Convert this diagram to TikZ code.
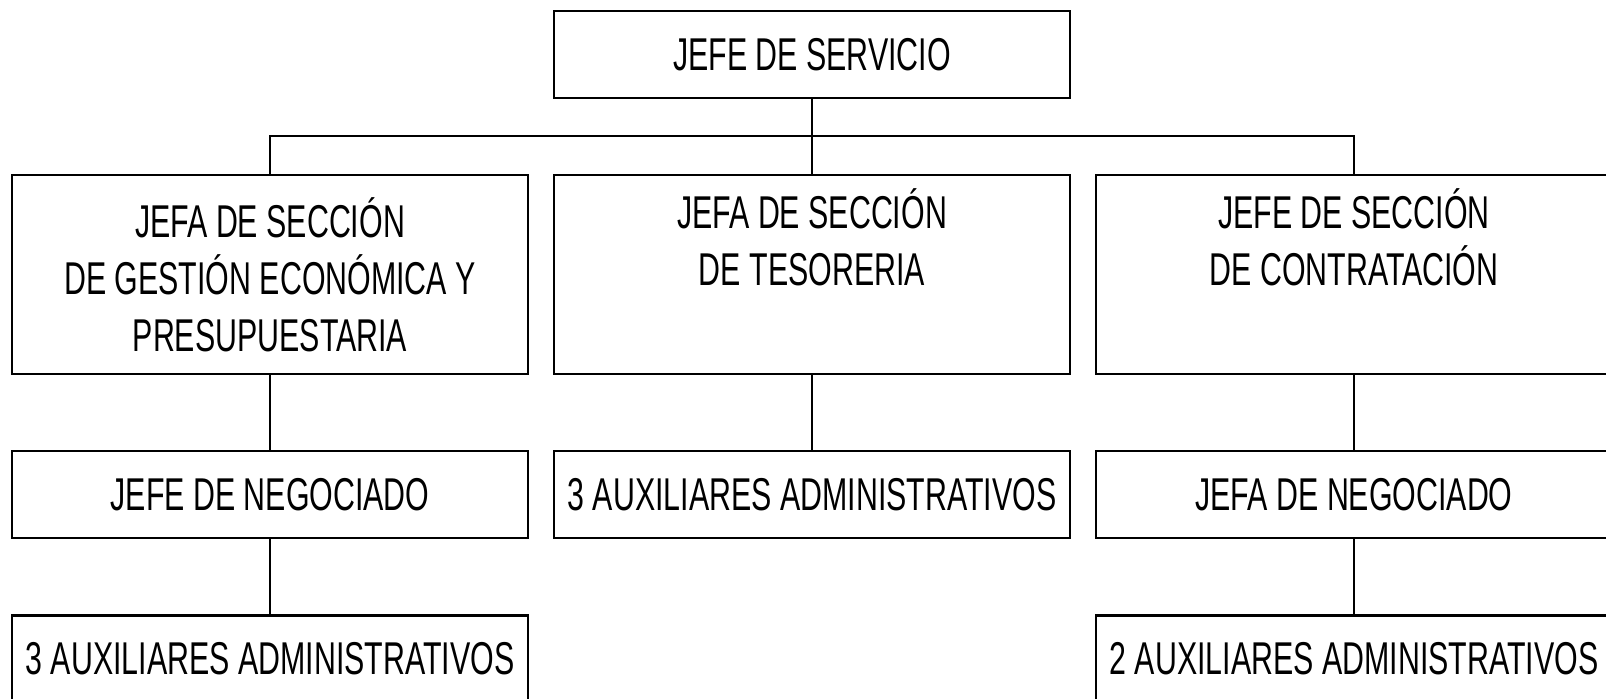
\documentclass[tikz,border=0pt]{standalone}
\usepackage{fontspec}
\setmainfont[FakeStretch=0.66]{Liberation Sans}
\begin{document}
\begin{tikzpicture}[x=0.5pt,y=-0.5pt,
  box/.style={draw,line width=1.3pt,inner sep=0pt,outer sep=0pt,minimum width=258pt,
    align=center,font=\fontsize{23pt}{28.5pt}\selectfont},
  small/.style={box,minimum height=43.5pt},
  big/.style={box,minimum height=99.5pt},
  link/.style={line width=0.9pt}]
\useasboundingbox (0,0) rectangle (1606,699);
\node[small] (top) at (812,54.5) {JEFE DE SERVICIO};
\node[big] (b1) at (270,274.5) {JEFA DE SECCIÓN\\DE GESTIÓN ECONÓMICA Y\\PRESUPUESTARIA};
\node[big] (b2) at (812,274.5) {JEFA DE SECCIÓN\\DE TESORERIA\\\strut};
\node[big] (b3) at (1354,274.5) {JEFE DE SECCIÓN\\DE CONTRATACIÓN\\\strut};
\node[small] (n1) at (270,494.5) {JEFE DE NEGOCIADO};
\node[small] (n2) at (812,494.5) {3 AUXILIARES ADMINISTRATIVOS};
\node[small] (n3) at (1354,494.5) {JEFA DE NEGOCIADO};
\node[small] (a1) at (270,659) {3 AUXILIARES ADMINISTRATIVOS};
\node[small] (a3) at (1354,659) {2 AUXILIARES ADMINISTRATIVOS};
\coordinate (bus) at (812,136);
\draw[link] (top.south) -- (b2.north);
\draw[link] (b1.north) -- (b1.north |- bus) -- (b3.north |- bus) -- (b3.north);
\draw[link] (b1.south) -- (n1.north);
\draw[link] (b2.south) -- (n2.north);
\draw[link] (b3.south) -- (n3.north);
\draw[link] (n1.south) -- (a1.north);
\draw[link] (n3.south) -- (a3.north);
\end{tikzpicture}
\end{document}
